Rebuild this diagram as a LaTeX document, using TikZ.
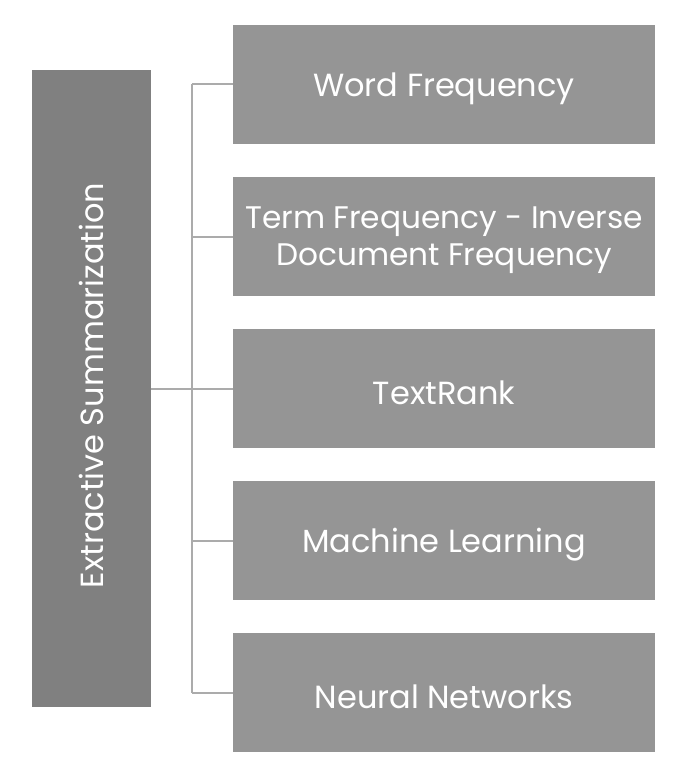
\documentclass[tikz,border=0pt]{standalone}
\usepackage{fontspec}
\setmainfont{Poppins}
\definecolor{leftgray}{HTML}{808080}
\definecolor{boxgray}{HTML}{959595}
\definecolor{linegray}{HTML}{ABABAB}
\begin{document}
\begin{tikzpicture}[x=1pt,y=-1pt,
  rootbox/.style={fill=leftgray, draw=none, minimum width=119pt, minimum height=637pt, inner sep=0pt},
  itembox/.style={fill=boxgray, draw=none, minimum width=422pt, minimum height=119pt, inner sep=0pt},
  itemlabel/.style={text=white, align=center, inner sep=0pt, yshift=-4pt, font=\fontsize{32}{37}\selectfont},
  conn/.style={draw=linegray, line width=2pt}]
\useasboundingbox (0,0) rectangle (687,773);
\node[rootbox] (root) at (91.5,388.5) {};
\node[rotate=90, text=white, xshift=3pt, font=\fontsize{32}{37}\selectfont] (rootlabel) at (root.center) {Extractive Summarization};
\node[itembox] (b1) at (444,84.5) {};
\node[itembox] (b2) at (444,236.5) {};
\node[itembox] (b3) at (444,388.5) {};
\node[itembox] (b4) at (444,540.5) {};
\node[itembox] (b5) at (444,692.5) {};
\node[itemlabel] (l1) at (b1.center) {Word Frequency};
\node[itemlabel, font=\fontsize{31.2}{37}\selectfont] (l2) at (b2.center) {Term Frequency - Inverse\\Document Frequency};
\node[itemlabel] (l3) at (b3.center) {TextRank};
\node[itemlabel] (l4) at (b4.center) {Machine Learning};
\node[itemlabel] (l5) at (b5.center) {Neural Networks};
\coordinate (jx) at (192,388.5);
\coordinate (top) at (192,84.5);
\coordinate (bot) at (192,692.5);
\draw[conn] (top) -- (bot);
\draw[conn] (root.east) -- (jx);
\foreach \b in {b1,b2,b3,b4,b5} \draw[conn] (jx |- \b.west) -- (\b.west);
\end{tikzpicture}
\end{document}
